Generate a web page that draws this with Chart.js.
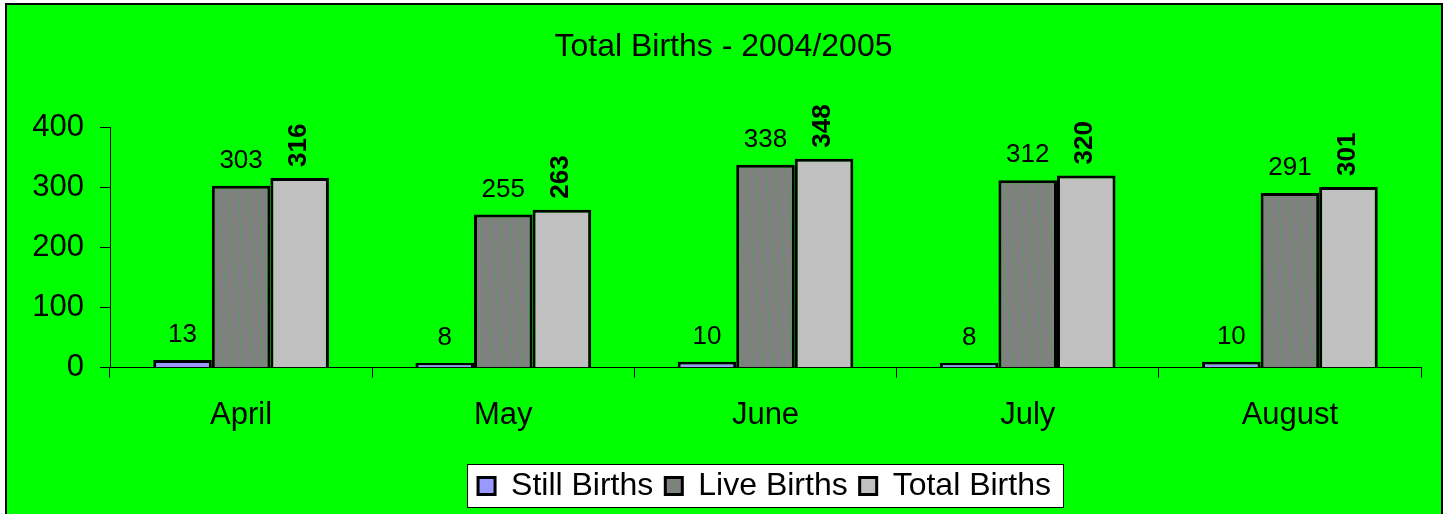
<!DOCTYPE html>
<html>
<head>
<meta charset="utf-8">
<style>
  html, body { margin: 0; padding: 0; background: #fff; }
  #wrap { width: 1448px; height: 514px; }
</style>
<script src="https://cdn.jsdelivr.net/npm/chart.js@4"></script>
</head>
<body>
<div id="wrap"><canvas id="birthsChart" width="1448" height="514"></canvas></div>
<script>
const months = ['April', 'May', 'June', 'July', 'August'];
const stillBirths = [13, 8, 10, 8, 10];
const liveBirths = [303, 255, 338, 312, 291];
const totalBirths = [316, 263, 348, 320, 301];
const yTicks = [0, 100, 200, 300, 400];

const FONT = "'Liberation Sans', Arial, sans-serif";
const LEGEND_SHIFT = 50;
const TITLE_SHIFT = 9;

function hatch() {
  const c = document.createElement('canvas');
  c.width = 10; c.height = 110;
  const g = c.getContext('2d');
  g.fillStyle = '#808080';
  g.fillRect(0, 0, 10, 110);
  g.strokeStyle = 'rgba(0,210,0,0.28)';
  g.lineWidth = 1;
  g.beginPath();
  g.moveTo(0, 0); g.lineTo(10, 110);
  g.moveTo(-10, 0); g.lineTo(0, 110);
  g.moveTo(10, 0); g.lineTo(20, 110);
  g.stroke();
  return g.createPattern(c, 'repeat');
}

const frame = {
  id: 'frame',
  afterLayout(chart) {
    // legend and title sit a little right of the plot centre in the original
    const lg = chart.legend;
    lg.left += LEGEND_SHIFT;
    lg.right += LEGEND_SHIFT;
    (lg.legendHitBoxes || []).forEach(b => { b.left += LEGEND_SHIFT; });
    if (chart.titleBlock) {
      chart.titleBlock.left += TITLE_SHIFT;
      chart.titleBlock.right += TITLE_SHIFT;
    }
  },
  beforeDraw(chart) {
    const ctx = chart.ctx;
    ctx.save();
    ctx.fillStyle = '#fff';
    ctx.fillRect(0, 0, chart.width, chart.height);
    ctx.fillStyle = '#00ff00';
    ctx.fillRect(6, 4, 1437, 512);
    ctx.strokeStyle = '#000';
    ctx.lineWidth = 2;
    ctx.strokeRect(6, 4, 1436, 514);
    // white box behind legend
    const boxes = chart.legend.legendHitBoxes;
    if (boxes && boxes.length) {
      const l = Math.min(...boxes.map(b => b.left)) - 11;
      const r = Math.max(...boxes.map(b => b.left + b.width)) + 13;
      const cy = boxes[0].top + boxes[0].height / 2;
      ctx.fillStyle = '#fff';
      ctx.fillRect(l, cy - 22, r - l, 44);
      ctx.lineWidth = 1;
      ctx.strokeRect(l + 0.5, cy - 21.5, r - l - 1, 43);
    }
    ctx.restore();
  }
};

const valueLabels = {
  id: 'valueLabels',
  afterDatasetsDraw(chart) {
    const ctx = chart.ctx;
    ctx.save();
    ctx.fillStyle = '#000';
    chart.data.datasets.forEach((ds, i) => {
      chart.getDatasetMeta(i).data.forEach((bar, j) => {
        const v = ds.data[j];
        if (i < 2) {
          ctx.font = '26px ' + FONT;
          ctx.textAlign = 'center';
          ctx.textBaseline = 'alphabetic';
          ctx.fillText(v, bar.x, bar.y - 18);
        } else {
          ctx.save();
          ctx.translate(bar.x - 1, bar.y - 11);
          ctx.rotate(-Math.PI / 2);
          ctx.font = 'bold 26px ' + FONT;
          ctx.textAlign = 'left';
          ctx.textBaseline = 'middle';
          ctx.fillText(v, 0, 0);
          ctx.restore();
        }
      });
    });
    ctx.restore();
  }
};

new Chart(document.getElementById('birthsChart'), {
  type: 'bar',
  data: {
    labels: months,
    datasets: [
      { label: 'Still Births', data: stillBirths, backgroundColor: '#9999ff' },
      { label: 'Live Births', data: liveBirths, backgroundColor: hatch() },
      { label: 'Total Births', data: totalBirths, backgroundColor: '#c0c0c0' }
    ]
  },
  options: {
    responsive: false,
    animation: false,
    layout: { padding: { left: 8, right: 27, top: 5, bottom: 2 } },
    datasets: {
      bar: {
        borderColor: '#000',
        borderWidth: 3,
        categoryPercentage: 0.67,
        barPercentage: 1
      }
    },
    plugins: {
      title: {
        display: true,
        text: 'Total Births - 2004/2005',
        color: '#000',
        font: { family: FONT, size: 32, weight: 'normal' },
        padding: { top: 23, bottom: 61 }
      },
      legend: {
        position: 'bottom',
        labels: {
          color: '#000',
          font: { family: FONT, size: 32 },
          boxWidth: 17,
          boxHeight: 17,
          padding: 12
        }
      },
      tooltip: { enabled: false }
    },
    scales: {
      x: {
        afterFit(scale) { scale.height += 5; },
        grid: { drawOnChartArea: false, drawTicks: true, tickLength: 10, color: '#000', offset: true },
        border: { color: '#000', width: 1 },
        ticks: { color: '#000', font: { family: FONT, size: 31 }, padding: 19 }
      },
      y: {
        min: 0,
        max: 400,
        afterBuildTicks(scale) { scale.ticks = yTicks.map(v => ({ value: v })); },
        afterFit(scale) { scale.width = 102; },
        grid: { drawOnChartArea: false, drawTicks: true, tickLength: 10, color: '#000' },
        border: { color: '#000', width: 1 },
        ticks: { color: '#000', font: { family: FONT, size: 31 }, padding: 16 }
      }
    }
  },
  plugins: [frame, valueLabels]
});
</script>
</body>
</html>
